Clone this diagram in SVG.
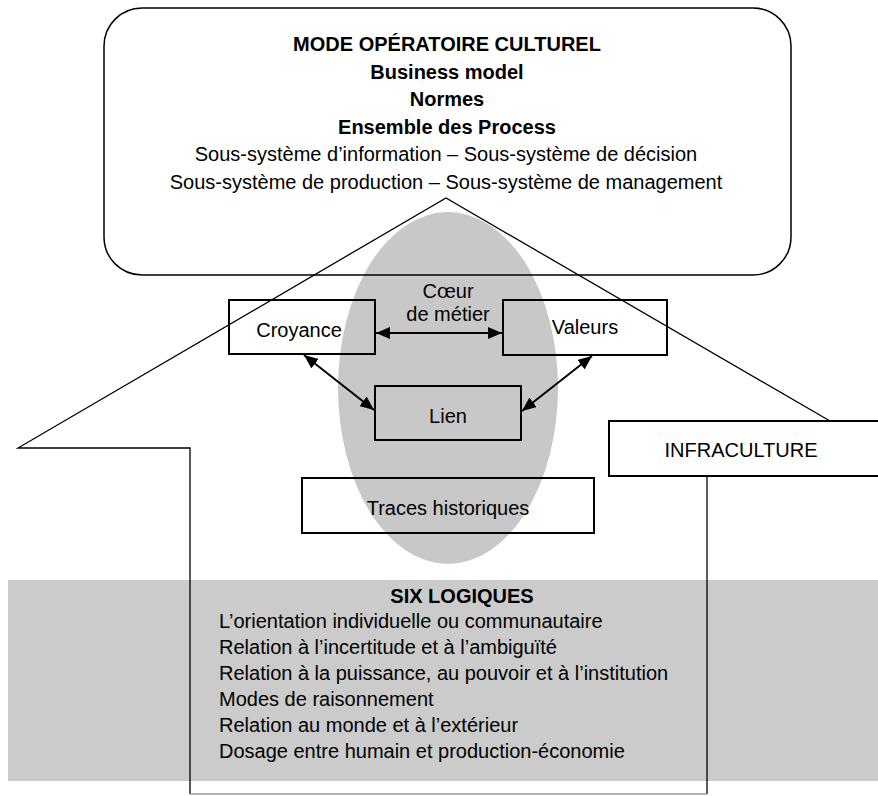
<svg xmlns="http://www.w3.org/2000/svg" width="878" height="796" viewBox="0 0 878 796">
<defs>
<style>
text{font-family:"Liberation Sans",Arial,sans-serif;font-size:20px;fill:#000}
.b{font-weight:bold}
.box{fill:none;stroke:#000;stroke-width:2}
.ln{fill:none;stroke:#000;stroke-width:1.3}
.arr{stroke:#000;stroke-width:2;marker-start:url(#ah);marker-end:url(#ah)}
</style>
<marker id="ah" viewBox="0 0 14 12" refX="14" refY="6" markerWidth="14" markerHeight="12" markerUnits="userSpaceOnUse" orient="auto-start-reverse">
<path d="M0,0 L14,6 L0,12 Z" fill="#000"/>
</marker>
</defs>
<rect width="878" height="796" fill="#fff"/>
<g id="six-logiques-band">
<rect x="8" y="580" width="870" height="201" fill="#cbcbcb"/>
</g>
<g id="coeur-ellipse">
<ellipse cx="448" cy="388" rx="110" ry="176" fill="#c8c8c8"/>
<text x="448" y="298" text-anchor="middle">Cœur</text>
<text x="448" y="321" text-anchor="middle">de métier</text>
</g>
<g id="mode-operatoire">
<rect x="104" y="8" width="687" height="267" rx="38" ry="38" fill="none" stroke="#000" stroke-width="1.5"/>
<text class="b" x="447" y="51" text-anchor="middle">MODE OPÉRATOIRE CULTUREL</text>
<text class="b" x="447" y="79" text-anchor="middle">Business model</text>
<text class="b" x="447" y="106" text-anchor="middle">Normes</text>
<text class="b" x="447" y="134" text-anchor="middle">Ensemble des Process</text>
<text x="446" y="161" text-anchor="middle">Sous-système d’information – Sous-système de décision</text>
<text x="446" y="189" text-anchor="middle">Sous-système de production – Sous-système de management</text>
</g>
<g id="house-outline">
<polyline class="ln" points="190,794 190,448 18,448 446,198 830,421"/>
<polyline class="ln" points="707,476 707,794"/>
<line x1="190" y1="794" x2="707" y2="794" stroke="#999" stroke-width="1.3"/>
</g>
<g id="croyance">
<rect class="box" x="229" y="300" width="146" height="54"/>
<text x="299" y="337" text-anchor="middle">Croyance</text>
</g>
<g id="valeurs">
<rect class="box" x="503" y="300" width="164" height="55"/>
<text x="585" y="334" text-anchor="middle">Valeurs</text>
</g>
<g id="lien">
<rect class="box" x="375" y="386" width="146" height="54"/>
<text x="448" y="423" text-anchor="middle">Lien</text>
</g>
<g id="traces">
<rect class="box" x="302" y="478" width="292" height="55"/>
<text x="448" y="515" text-anchor="middle">Traces historiques</text>
</g>
<g id="infraculture">
<rect class="box" x="609" y="421" width="275" height="55"/>
<text x="741" y="457" text-anchor="middle">INFRACULTURE</text>
</g>
<g id="six-logiques">
<text class="b" x="462" y="603" text-anchor="middle">SIX LOGIQUES</text>
<text x="219" y="628">L’orientation individuelle ou communautaire</text>
<text x="219" y="654">Relation à l’incertitude et à l’ambiguïté</text>
<text x="219" y="680">Relation à la puissance, au pouvoir et à l’institution</text>
<text x="219" y="706">Modes de raisonnement</text>
<text x="219" y="732">Relation au monde et à l’extérieur</text>
<text x="219" y="758">Dosage entre humain et production-économie</text>
</g>
<g id="connectors">
<line class="arr" x1="376" y1="333" x2="502" y2="333"/>
<line class="arr" x1="304" y1="355" x2="374" y2="410"/>
<line class="arr" x1="592" y1="356" x2="522" y2="411"/>
</g>
</svg>
